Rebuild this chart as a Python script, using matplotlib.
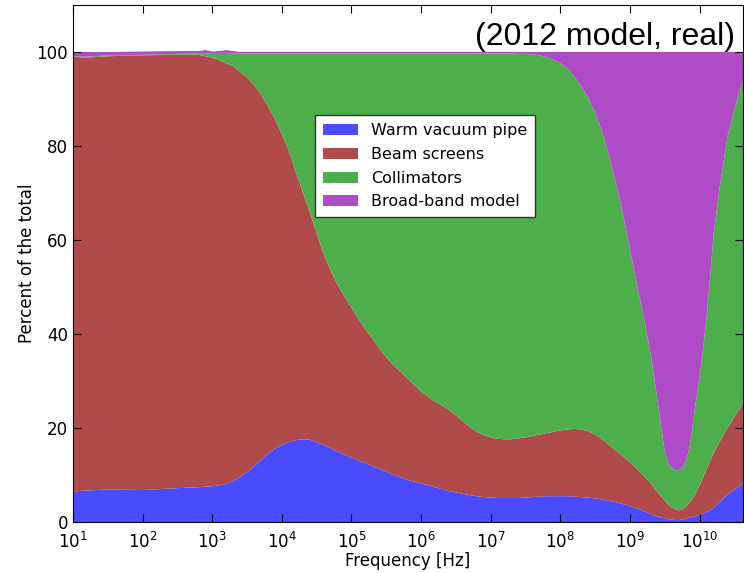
import matplotlib
matplotlib.use('Agg')
import matplotlib.pyplot as plt
import numpy as np

# frequency grid, log10(f / Hz)
log_freq = [1.0, 1.2, 1.5, 2.0, 2.5,
            2.8, 2.9, 3.0, 3.1, 3.2, 3.3, 3.4, 3.5, 3.6, 3.7,
            3.8, 3.9, 4.0, 4.1, 4.2, 4.3, 4.4, 4.5, 4.6, 4.7,
            4.8, 4.9, 5.0, 5.1, 5.2, 5.3, 5.4, 5.5, 5.6, 5.7,
            5.8, 5.9, 6.0, 6.1, 6.2, 6.3, 6.4, 6.5, 6.6, 6.7,
            6.8, 6.9, 7.0, 7.1, 7.2, 7.3, 7.4, 7.5, 7.6, 7.7,
            7.8, 7.9, 8.0, 8.1, 8.2, 8.3, 8.4, 8.5, 8.6, 8.7,
            8.8, 8.9, 9.0, 9.1, 9.2, 9.3,
            9.35, 9.4, 9.45, 9.5, 9.55, 9.6, 9.65, 9.7, 9.75, 9.8,
            9.85, 9.9, 9.95, 10.0, 10.05, 10.1, 10.15, 10.2,
            10.3, 10.4, 10.5, 10.6, 10.63]

# cumulative top of each band (percent of total)
pipe_top = [6.5, 6.7, 6.9, 6.8, 7.2,
            7.4, 7.5, 7.6, 7.8, 8.1, 8.7, 9.6, 10.6, 11.8, 13.2,
            14.5, 15.6, 16.4, 17.0, 17.4, 17.6, 17.5, 17.0, 16.4, 15.7,
            15.0, 14.3, 13.7, 13.1, 12.5, 11.9, 11.3, 10.7, 10.1, 9.5,
            9.0, 8.6, 8.2, 7.8, 7.4, 7.0, 6.6, 6.3, 6.0, 5.7,
            5.5, 5.3, 5.2, 5.1, 5.1, 5.1, 5.1, 5.2, 5.3, 5.4,
            5.5, 5.5, 5.5, 5.5, 5.4, 5.3, 5.2, 5.0, 4.8, 4.5,
            4.2, 3.8, 3.4, 2.9, 2.3, 1.7,
            1.4, 1.1, 0.9, 0.8, 0.6, 0.5, 0.4, 0.4, 0.5, 0.7,
            0.9, 1.1, 1.3, 1.5, 1.8, 2.1, 2.5, 3.0,
            4.4, 5.8, 6.9, 7.9, 8.3]
screens_top = [99.0, 98.8, 99.1, 99.3, 99.4,
               99.4, 99.1, 98.8, 98.3, 97.6, 97.0, 95.8, 94.6, 93.0, 91.0,
               88.5, 85.8, 82.5, 79.0, 74.5, 70.2, 66.0, 61.5, 57.0, 53.5,
               50.5, 48.0, 45.6, 43.2, 41.0, 39.0, 37.0, 35.0, 33.4, 32.0,
               30.6, 29.2, 27.8, 26.6, 25.6, 24.8, 23.9, 22.7, 21.4, 20.2,
               19.2, 18.5, 18.0, 17.7, 17.6, 17.6, 17.8, 18.0, 18.3, 18.6,
               18.9, 19.2, 19.5, 19.7, 19.8, 19.7, 19.3, 18.6, 17.6, 16.4,
               15.2, 14.0, 12.7, 11.3, 9.8, 8.2,
               7.2, 6.3, 5.4, 4.5, 3.7, 3.1, 2.7, 2.5, 2.6, 3.2,
               4.0, 5.0, 6.3, 7.8, 9.5, 11.2, 12.9, 14.6,
               17.4, 20.0, 22.3, 24.7, 25.4]
collim_top = [99.1, 99.0, 99.3, 99.4, 99.6,
              99.7, 99.7, 99.8, 99.8, 99.8, 99.7, 99.7, 99.7, 99.7, 99.7,
              99.7, 99.7, 99.7, 99.7, 99.7, 99.7, 99.7, 99.7, 99.7, 99.7,
              99.7, 99.7, 99.7, 99.7, 99.7, 99.7, 99.7, 99.7, 99.7, 99.7,
              99.7, 99.7, 99.7, 99.7, 99.7, 99.7, 99.7, 99.7, 99.7, 99.7,
              99.7, 99.7, 99.7, 99.7, 99.7, 99.7, 99.6, 99.6, 99.5, 99.3,
              98.9, 98.3, 97.6, 96.5, 94.8, 92.7, 90.2, 87.0, 83.0, 77.8,
              72.0, 65.5, 58.0, 50.5, 43.5, 35.5,
              30.5, 25.5, 20.0, 15.0, 12.5, 11.5, 11.0, 11.0, 11.5, 13.0,
              15.5, 20.5, 26.0, 31.0, 37.0, 43.5, 52.0, 61.0,
              72.5, 82.0, 87.8, 93.0, 94.0]
total_top = [100.0, 100.0, 100.0, 100.1, 100.2,
             100.2, 100.4, 100.1, 100.2, 100.4, 100.2, 100.0, 100.0, 100.0, 100.0]
total_top += [100.0] * (len(log_freq) - len(total_top))

labels = ['Warm vacuum pipe', 'Beam screens', 'Collimators', 'Broad-band model']
colors = ['#4b4bff', '#b04b4b', '#4caf4c', '#b04bc8']

freq = 10.0 ** np.array(log_freq)
tops = np.array([pipe_top, screens_top, collim_top, total_top])
shares = np.diff(np.vstack([np.zeros(len(freq)), tops]), axis=0)

fig = plt.figure(figsize=(7.44, 5.73), dpi=100)
ax = fig.add_axes([73 / 744, 51 / 573, 670 / 744, 517 / 573])

ax.stackplot(freq, shares, labels=labels, colors=colors, linewidth=0)
ax.set_xscale('log')
ax.set_xlim(10, 4.2e10)
ax.set_ylim(0, 110)
ax.set_yticks([0, 20, 40, 60, 80, 100])
ax.set_xticks(10.0 ** np.arange(1, 11))

ax.tick_params(which='both', direction='in', top=True, right=True, labelsize=12)
ax.tick_params(which='major', length=6)
ax.tick_params(which='minor', length=3)
ax.tick_params(axis='x', pad=7)

ax.set_xlabel('Frequency [Hz]', fontsize=12, labelpad=0)
ax.set_ylabel('Percent of the total', fontsize=12, labelpad=0.5)

ax.text(0.988, 0.923, '(2012 model, real)', transform=ax.transAxes, ha='right', va='baseline',
        fontsize=23, family='Liberation Sans')

leg = ax.legend(loc='center', bbox_to_anchor=(0.526, 0.688), fontsize=11.5, fancybox=False,
                framealpha=1, edgecolor='#333333', handlelength=2.2, labelspacing=0.55,
                borderpad=0.5)
leg.get_frame().set_linewidth(1.0)

fig.savefig('out.png', dpi=100)
